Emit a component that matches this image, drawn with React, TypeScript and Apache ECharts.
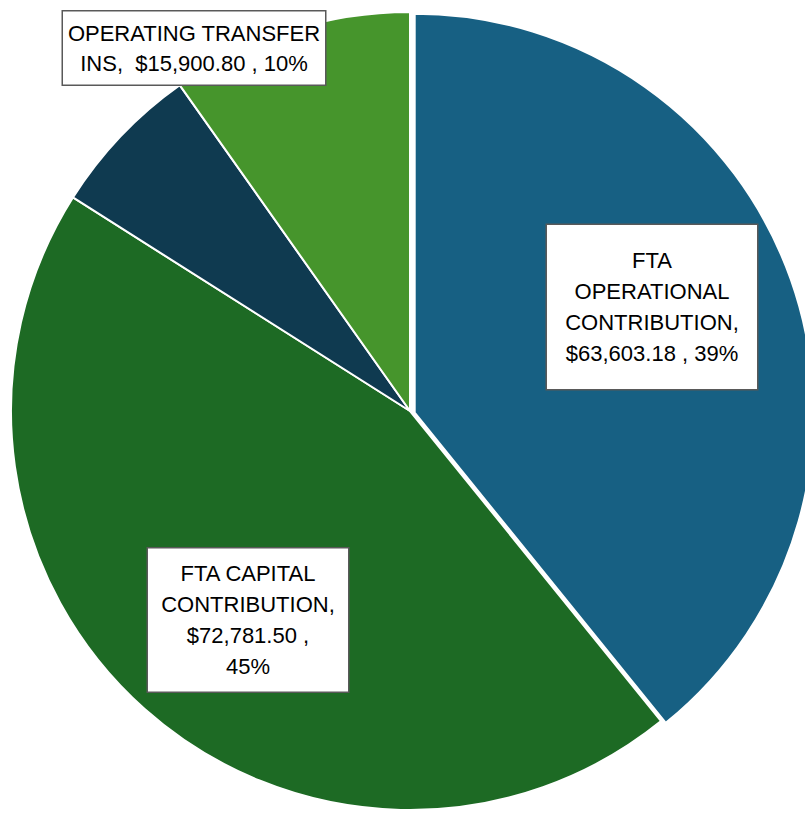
import React, { useEffect, useRef } from "react";
import * as echarts from "echarts";

const categories = [
  "FTA OPERATIONAL CONTRIBUTION",
  "FTA CAPITAL CONTRIBUTION",
  "OTHER",
  "OPERATING TRANSFER INS",
];
const values = [63603.18, 72781.5, 10100, 15900.8];
const colors = ["#176083", "#1D6A24", "#0F3A50", "#46952C"];
const explodedIndex = 0;

const fmtMoney = (v: number) =>
  "$" + v.toLocaleString("en-US", { minimumFractionDigits: 2, maximumFractionDigits: 2 });

export default function App() {
  const ref = useRef<HTMLDivElement>(null);
  useEffect(() => {
    if (!ref.current) return;
    const chart = echarts.init(ref.current, undefined, { renderer: "svg" });
    const total = values.reduce((a, b) => a + b, 0);
    const pct = (v: number) => Math.round((v / total) * 100) + "%";
    const lines = (i: number): string[] => {
      const v = fmtMoney(values[i]);
      const p = pct(values[i]);
      if (i === 0) return ["FTA", "OPERATIONAL", "CONTRIBUTION,", `${v} , ${p}`];
      if (i === 1) return ["FTA CAPITAL", "CONTRIBUTION,", `${v} ,`, p];
      if (i === 3) return ["OPERATING TRANSFER", `INS,  ${v} , ${p}`];
      return [];
    };
    const labelBox: Record<number, any> = {
      0: { x: 652, y: 307, width: 190, height: 124, padding: [20, 10, 20, 10], lh: 31 },
      1: { x: 248, y: 620, width: 180, height: 124, padding: [10, 10, 9, 10], lh: 31 },
      3: { x: 194, y: 48, width: 248, height: 60, padding: [6, 7, 7, 7], lh: 30 },
    };
    const baseLabel = {
      show: true,
      position: "inside" as const,
      color: "#000",
      fontFamily: "Liberation Sans, Arial, sans-serif",
      fontSize: 22,
      backgroundColor: "#ffffff",
      borderColor: "#595959",
      borderWidth: 1.5,
      align: "center" as const,
      overflow: "none" as const,
      formatter: (p: any) => lines(p.dataIndex).join("\n"),
    };
    const hidden = { color: "rgba(0,0,0,0)", borderWidth: 0 };
    // visible: which items this series draws
    const makeData = (visible: (i: number) => boolean) =>
      categories.map((name, i) => {
        const lb = labelBox[i];
        const show = visible(i);
        return {
          name,
          value: values[i],
          itemStyle: show ? { color: colors[i] } : hidden,
          label:
            show && lb
              ? { ...baseLabel, width: lb.width, height: lb.height, padding: lb.padding, lineHeight: lb.lh }
              : { show: false },
        };
      });
    const common = {
      type: "pie",
      radius: 399,
      startAngle: 90,
      clockwise: true,
      silent: true,
      avoidLabelOverlap: false,
      emphasis: { disabled: true },
      itemStyle: { borderColor: "#ffffff", borderWidth: 2 },
      labelLine: { show: false },
      labelLayout: (params: any) => {
        const lb = labelBox[params.dataIndex];
        if (!lb) return {};
        return { x: lb.x, y: lb.y, align: "center", verticalAlign: "middle" };
      },
    };
    chart.setOption({
      animation: false,
      series: [
        { ...common, center: [410, 411], data: makeData((i) => i !== explodedIndex) },
        { ...common, center: [414.7, 412.7], data: makeData((i) => i === explodedIndex) },
      ],
    });
    return () => chart.dispose();
  }, []);
  return (
    <div
      ref={ref}
      style={{ position: "fixed", left: 0, top: 0, width: 805, height: 814, background: "#fff" }}
    />
  );
}
